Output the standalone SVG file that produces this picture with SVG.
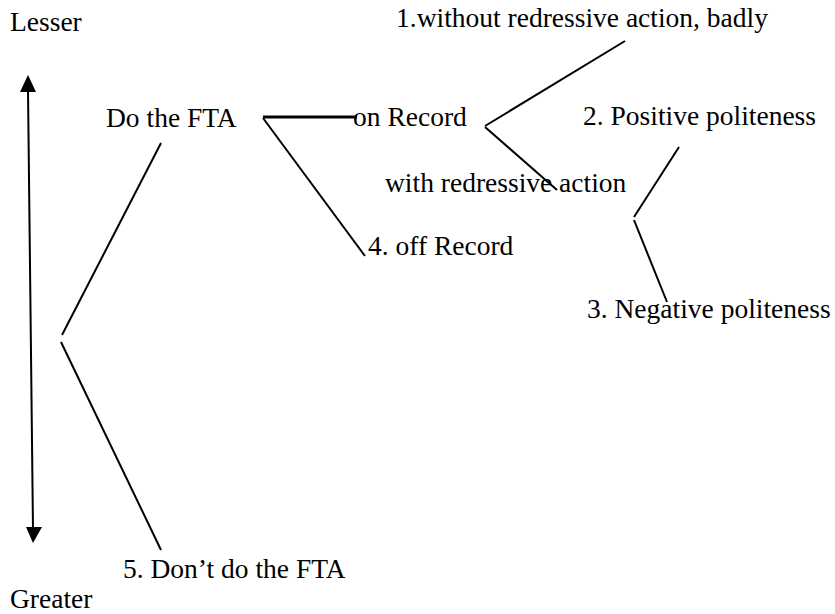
<svg xmlns="http://www.w3.org/2000/svg" width="835" height="614" viewBox="0 0 835 614">
<style>
text { font-family: "Liberation Serif", "DejaVu Serif", serif; font-size: 27.5px; fill: #000; }
.c { stroke: #000; stroke-width: 2; fill: none; }
.thick { stroke-width: 3; }
.head { fill: #000; stroke: none; }
</style>
<rect width="835" height="614" fill="#fff"/>
<g id="connectors">
  <line class="c" x1="28" y1="90" x2="33" y2="529"/>
  <polygon class="head" points="28,75 20,92 36,92"/>
  <polygon class="head" points="33,543 26,527 42,527"/>
  <line class="c thick" x1="263" y1="117" x2="357" y2="117"/>
  <line class="c" x1="263" y1="118" x2="365" y2="256"/>
  <line class="c" x1="485" y1="126" x2="625" y2="41"/>
  <line class="c" x1="485" y1="127" x2="557" y2="190"/>
  <line class="c" x1="679" y1="147" x2="634" y2="217"/>
  <line class="c" x1="634" y1="220" x2="667" y2="302"/>
  <line class="c" x1="161" y1="143" x2="62" y2="335"/>
  <line class="c" x1="61" y1="342" x2="161" y2="550"/>
</g>
<g id="lesser"><text x="10" y="31">Lesser</text></g>
<g id="greater"><text x="10" y="608">Greater</text></g>
<g id="do-fta"><text x="106" y="127">Do the FTA</text></g>
<g id="on-record"><text x="353" y="126">on Record</text></g>
<g id="without-redress"><text x="396" y="27">1.without redressive action, badly</text></g>
<g id="positive"><text x="583" y="125">2. Positive politeness</text></g>
<g id="with-redress"><text x="385" y="192">with redressive action</text></g>
<g id="off-record"><text x="368" y="255">4. off Record</text></g>
<g id="negative"><text x="587" y="318">3. Negative politeness</text></g>
<g id="dont-fta"><text x="123" y="578">5. Don’t do the FTA</text></g>
</svg>
